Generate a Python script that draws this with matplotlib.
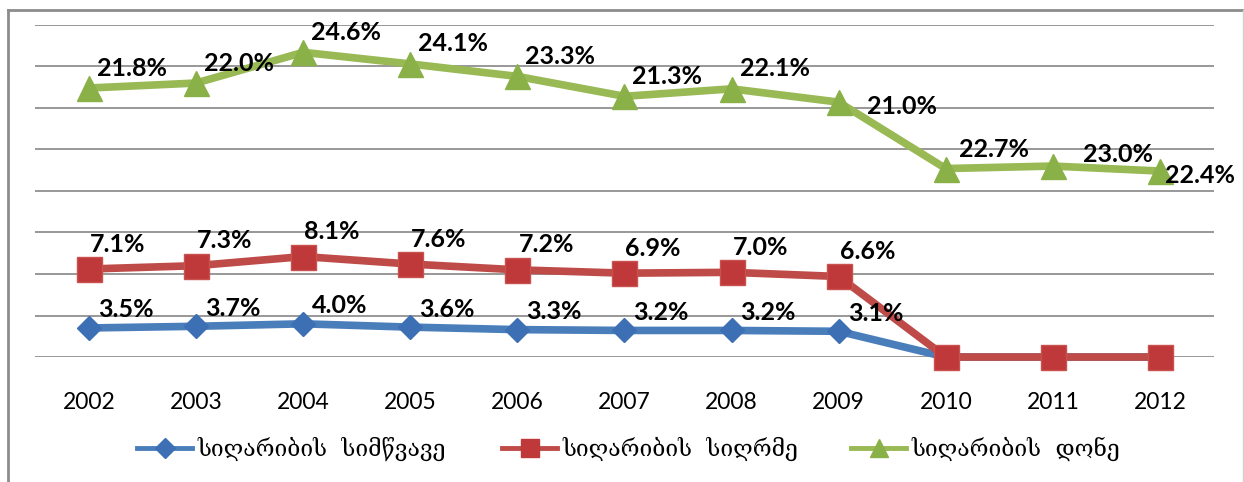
import matplotlib.pyplot as plt
import numpy as np
from matplotlib.lines import Line2D

# =====================
# Data (stacked line chart, labels show each series' own value)
# =====================
years = ['2002', '2003', '2004', '2005', '2006', '2007', '2008', '2009', '2010', '2011', '2012']
severity = np.array([3.5, 3.7, 4.0, 3.6, 3.3, 3.2, 3.2, 3.1, 0, 0, 0])
depth = np.array([7.1, 7.3, 8.1, 7.6, 7.2, 6.9, 7.0, 6.6, 0, 0, 0])
level = np.array([21.8, 22.0, 24.6, 24.1, 23.3, 21.3, 22.1, 21.0, 22.7, 23.0, 22.4])
n_labeled = [8, 8, 11]  # severity, depth, level
names = ['სიღარიბის  სიმწვავე', 'სიღარიბის  სიღრმე', 'სიღარიბის  დონე']

# =====================
# Styling
# =====================
plt.rcParams['font.family'] = ['Lato', 'DejaVu Sans']

blue, red, green = '#4A7EBB', '#BE4B48', '#98B954'
blue_m, red_m, green_m = '#3C6FB4', '#C0393A', '#8AB147'

W, H = 1244, 482
fig = plt.figure(figsize=(W / 100, H / 100), dpi=100)
ax = fig.add_axes([0.0285, 0.2593, 0.947, 0.689])

x = np.arange(len(years))
s1 = severity
s2 = severity + depth
s3 = severity + depth + level

l1, = ax.plot(x, s1, color=blue, lw=5.5, marker='D', ms=12, mfc=blue_m, mec=blue_m,
              zorder=3, clip_on=False)
l2, = ax.plot(x, s2, color=red, lw=5.5, marker='s', ms=18, mfc=red_m, mec='#C9514E', mew=1,
              zorder=4, clip_on=False)
l3, = ax.plot(x, s3, color=green, lw=5.5, marker='^', ms=18, mfc=green_m, mec=green_m,
              zorder=5, clip_on=False)

# data labels
def put_labels(ys, vals, n, default, overrides):
    for i in range(n):
        dx, dy = overrides.get(i, default)
        ax.annotate(f'{vals[i]:.1f}%', (x[i], ys[i]), xytext=(dx, dy), textcoords='offset pixels',
                    ha='left', va='center', fontsize=18, fontweight='bold', color='black', zorder=6)

put_labels(s1, severity, n_labeled[0], (9, 18), {})
put_labels(s2, depth, n_labeled[1], (1, 25), {})
put_labels(s3, level, n_labeled[2], (8, 20), {8: (13, 19), 7: (28, -4), 9: (30, 12), 10: (5, -4)})

ax.set_xlim(-0.5, len(years) - 0.5)
ax.set_ylim(0, 40)
ax.set_yticks(np.arange(0, 41, 5))
ax.set_yticklabels([])
ax.set_xticks(x)
ax.set_xticklabels(years, fontsize=16.5)
ax.tick_params(axis='both', length=0)
ax.tick_params(axis='x', pad=25)
ax.grid(axis='y', color='#868686', lw=1.2)
ax.set_axisbelow(True)
for sp in ax.spines.values():
    sp.set_visible(False)

# legend: one entry per block, placed like the original
handles = [
    Line2D([], [], color=blue, lw=3.5, marker='D', ms=10, mfc=blue_m, mec=blue_m),
    Line2D([], [], color=red, lw=3.5, marker='s', ms=13, mfc=red_m, mec=red_m),
    Line2D([], [], color=green, lw=3.5, marker='^', ms=13, mfc=green_m, mec=green_m),
]
for h, name, left in zip(handles, names, [137, 502, 851]):
    fig.legend([h], [name], loc='center left', bbox_to_anchor=(left / W, 0.068), frameon=False,
               prop={'family': 'DejaVu Serif', 'size': 16.5}, handlelength=2.4, handletextpad=0.25,
               borderpad=0, borderaxespad=0)

# outer chart border (left/top dark, right light)
fig.add_artist(Line2D([8 / W, 8 / W], [0, 1 - 10 / H], transform=fig.transFigure, color='#8C8C8C', lw=2))
fig.add_artist(Line2D([8 / W, 1243 / W], [1 - 10 / H, 1 - 10 / H], transform=fig.transFigure,
                      color='#8C8C8C', lw=2))
fig.add_artist(Line2D([1242.5 / W, 1242.5 / W], [0, 1 - 10 / H], transform=fig.transFigure,
                      color='#D0D0D0', lw=1))

plt.savefig('out.png', dpi=100)
